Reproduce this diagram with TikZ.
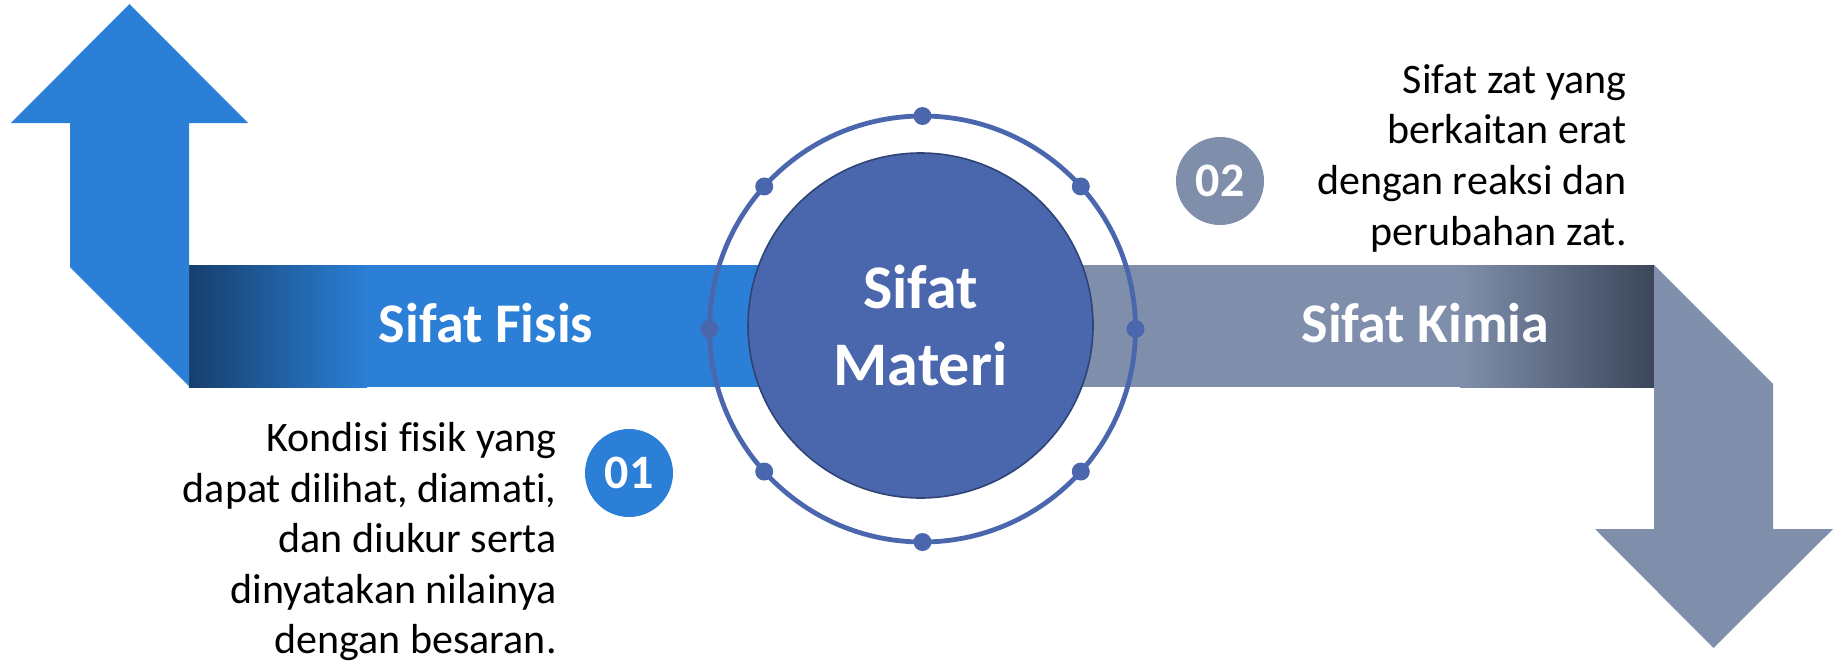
\documentclass[tikz,border=0pt]{standalone}
\usepackage{fontspec}
\setmainfont{Carlito}[Ligatures=NoCommon]
\usepackage{tikz}
\usetikzlibrary{calc}
\usetikzlibrary{positioning}
\definecolor{FisisBlue}{RGB}{43,127,214}
\definecolor{FisisDark}{RGB}{22,63,108}
\definecolor{KimiaGray}{RGB}{127,143,171}
\definecolor{KimiaDark}{RGB}{60,70,90}
\definecolor{MateriBlue}{RGB}{74,103,173}
\definecolor{MateriEdge}{RGB}{46,68,116}
\newcommand{\ringDot}[1]{%
		\fill [MateriBlue] ($(ring)+(#1:213)$) circle (9);
}
\tikzset{
	numberBadge/.style={circle, minimum size=44pt, inner sep=0pt, text=white,
		font=\fontsize{24}{24}\selectfont\bfseries},
	bandLabel/.style={text=white, inner sep=0pt, font=\fontsize{28}{30}\selectfont\bfseries},
	infoText/.style={align=right, inner sep=0pt, font=\fontsize{21}{25.3}\selectfont},
}

\begin{document}
\begin{tikzpicture}[x=0.5pt, y=-0.5pt]
		\useasboundingbox (0,0) rectangle (1835,664);
	
		% physical side: band and up arrow
		\fill [FisisBlue] (189,265) rectangle (921,387);
		\shade [left color=FisisDark, right color=FisisBlue] (189,265) rectangle (367,387);
		\fill [FisisBlue] (70,267) -- (70,123) -- (11,123) -- (129.5,4) -- (248,123)
								  -- (189,123) -- (189,386) -- cycle;
		
		% chemical side: band and down arrow
		\fill [KimiaGray] (921,265) rectangle (1654,387);
		\shade [left color=KimiaGray, right color=KimiaDark] (1460,265) rectangle (1654,387);
		\fill [KimiaGray] (1654,265) -- (1773,384) -- (1773,529) -- (1833,529)
								  -- (1713.5,648) -- (1595,529) -- (1654,529) -- cycle;
		
		% outer ring with its dots
		\coordinate (ring) at (922.5,329);
		\draw [MateriBlue, line width=2.4pt] (ring) circle (213);
		\foreach \a in {0,42,90,138,180,222,270,318}
			\ringDot{\a};
		
		\node [circle, fill=MateriBlue, draw=MateriEdge, line width=0.8pt, minimum size=172.5pt,
			   inner sep=0pt, align=center, text=white,
			   font=\fontsize{31}{38.5}\selectfont\bfseries] (materi) at (920.5,325.5) {Sifat\\Materi};
		
		\node [bandLabel, anchor=base] (fisis) at (486,342) {Sifat Fisis};
		\node [bandLabel, anchor=base] (kimia) at (1425.5,342) {Sifat Kimia};
		
		\node [numberBadge, fill=FisisBlue] (num01) at (629,473) {01};
		\node [numberBadge, fill=KimiaGray] (num02) at (1220,181) {02};
		
		\node [infoText, anchor=north east] (fisisInfo) at (557,422)
			{Kondisi fisik yang\\dapat dilihat, diamati,\\dan diukur serta\\dinyatakan nilainya\\dengan besaran.};
		\node [infoText, anchor=north east] (kimiaInfo) at (1627,64)
			{Sifat zat yang\\berkaitan erat\\dengan reaksi dan\\perubahan zat.};
	\end{tikzpicture}
\end{document}
